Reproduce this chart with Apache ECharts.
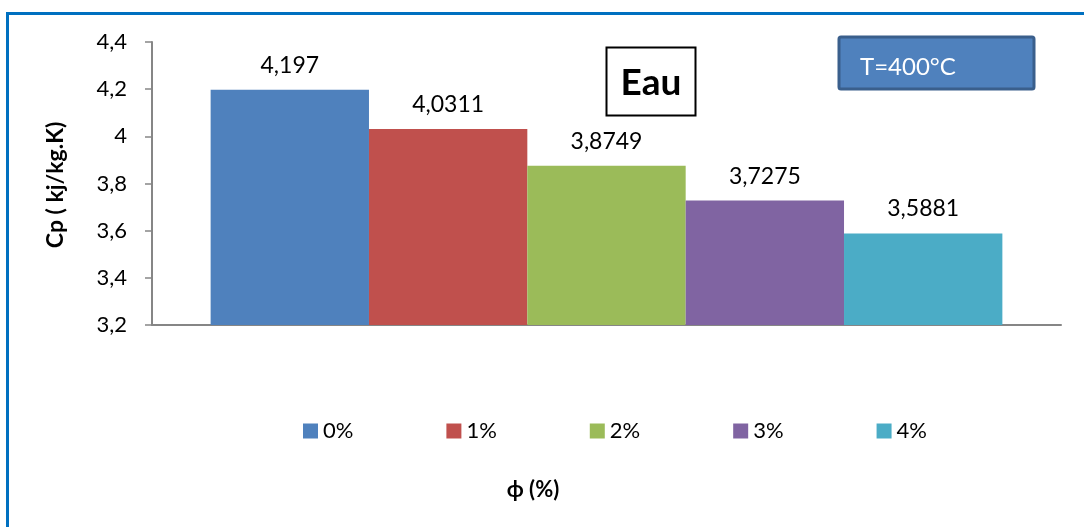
<!DOCTYPE html>
<html>
<head>
<meta charset="utf-8">
<script src="https://cdn.jsdelivr.net/npm/echarts@6/dist/echarts.min.js"></script>
<style>
  html, body { margin: 0; padding: 0; background: #fff; }
  #chart { width: 1084px; height: 527px; }
</style>
</head>
<body>
<div id="chart"></div>
<script>
// Specific heat of water-based nanofluid at 400 °C for each volume fraction
const seriesNames = ['0%', '1%', '2%', '3%', '4%'];
const cpValues = [4.197, 4.0311, 3.8749, 3.7275, 3.5881];
const barColors = ['#4F81BD', '#C0504D', '#9BBB59', '#8064A2', '#4BACC6'];
const categories = [''];
const yMin = 3.2, yMax = 4.4, yStep = 0.2;

const FONT = 'Lato, "Liberation Sans", sans-serif';
const comma = v => String(v).replace('.', ',');

const chart = echarts.init(document.getElementById('chart'), null, { renderer: 'canvas' });

const series = seriesNames.map((name, i) => ({
  name: name,
  type: 'bar',
  data: [cpValues[i]],
  itemStyle: { color: barColors[i] },
  barGap: '0%',
  barCategoryGap: '12.9%',
  label: {
    show: true,
    position: 'top',
    distance: 13,
    fontFamily: FONT,
    fontSize: 23,
    color: '#000',
    formatter: p => comma(p.value)
  }
}));

chart.setOption({
  animation: false,
  textStyle: { fontFamily: FONT },
  grid: { left: 152, right: 23, top: 42, bottom: 202, containLabel: false },
  legend: {
    data: seriesNames,
    left: 298,
    top: 415,
    itemWidth: 15,
    itemHeight: 15,
    itemGap: 93,
    icon: 'rect',
    textStyle: { fontFamily: FONT, fontSize: 22, color: '#000' }
  },
  xAxis: {
    type: 'category',
    data: categories,
    axisLine: { lineStyle: { color: '#868686', width: 2 } },
    axisTick: { show: false },
    axisLabel: { show: false }
  },
  yAxis: {
    type: 'value',
    min: yMin,
    max: yMax,
    interval: yStep,
    splitLine: { show: false },
    axisLine: { show: true, lineStyle: { color: '#868686', width: 2 } },
    axisTick: { show: true, length: 7, lineStyle: { color: '#868686', width: 1.5 } },
    axisLabel: {
      fontFamily: FONT,
      fontSize: 22,
      color: '#000',
      margin: 25,
      formatter: v => comma(Math.round(v * 10) / 10)
    }
  },
  graphic: [
    // outer frame
    { type: 'rect', shape: { x: 7.5, y: 13.5, width: 1200, height: 700 },
      style: { fill: null, stroke: '#0070C0', lineWidth: 3 }, silent: true },
    // axis titles
    { type: 'text', x: 56, y: 185, rotation: Math.PI / 2,
      style: { text: 'Cp ( kj/kg.K)', fontFamily: FONT, fontSize: 23, fontWeight: 'bold',
        fill: '#000', align: 'center', verticalAlign: 'middle' } },
    { type: 'text', x: 533, y: 490,
      style: { text: 'ϕ (%)', fontFamily: FONT, fontSize: 22, fontWeight: 'bold',
        fill: '#000', align: 'center', verticalAlign: 'middle' } },
    // fluid name box
    { type: 'rect', shape: { x: 606.5, y: 47.5, width: 89, height: 68 },
      style: { fill: '#fff', stroke: '#000', lineWidth: 2 } },
    { type: 'text', x: 651, y: 83,
      style: { text: 'Eau', fontFamily: FONT, fontSize: 37, fontWeight: 'bold',
        fill: '#000', align: 'center', verticalAlign: 'middle' } },
    // temperature box
    { type: 'rect', shape: { x: 839, y: 37, width: 195, height: 52, r: 2 },
      style: { fill: '#4F81BD', stroke: '#3A5F8C', lineWidth: 3 } },
    { type: 'text', x: 860, y: 67,
      style: { text: 'T=400°C', fontFamily: FONT, fontSize: 24,
        fill: '#fff', align: 'left', verticalAlign: 'middle' } }
  ],
  series: series
});
</script>
</body>
</html>
